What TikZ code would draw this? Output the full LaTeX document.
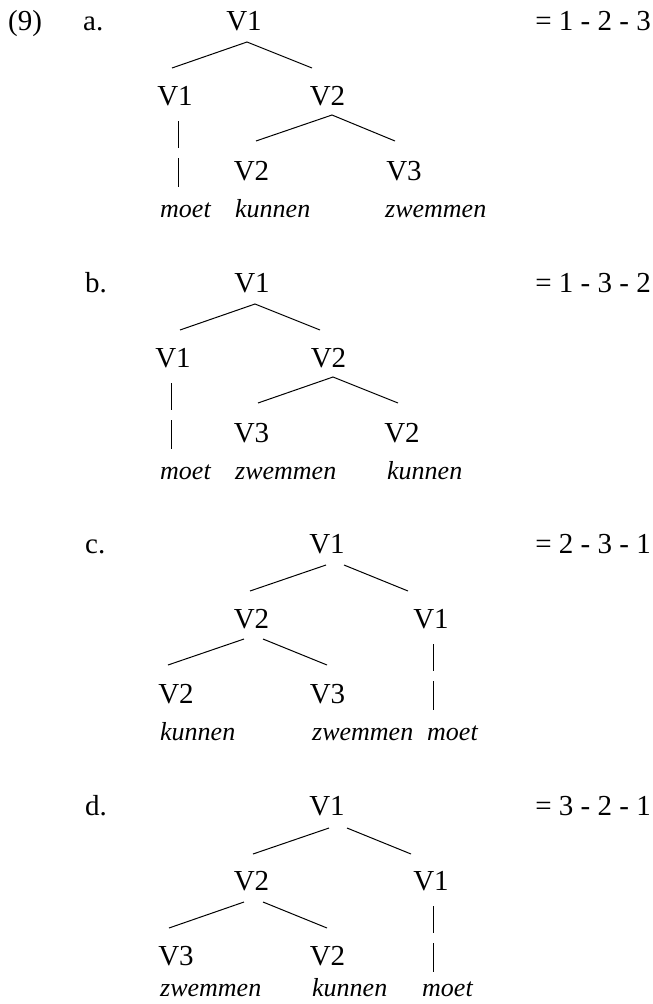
\documentclass[tikz,border=0pt]{standalone}
\usepackage{fontspec}
\setmainfont{Liberation Serif}
\newfontfamily\treefont{Liberation Serif}
\begin{document}
\begin{tikzpicture}[x=1pt,y=-1pt,
  lbl/.style={anchor=base,inner sep=0pt,font=\treefont\fontsize{29}{32}\selectfont},
  lft/.style={anchor=base west,inner sep=0pt,font=\treefont\fontsize{29}{32}\selectfont},
  eqn/.style={anchor=base east,inner sep=0pt,font=\treefont\fontsize{29}{32}\selectfont},
  word/.style={anchor=base west,inner sep=0pt,font=\treefont\itshape\fontsize{26}{30}\selectfont},
  branch/.style={line width=1pt}]
\useasboundingbox (0,0) rectangle (653,1004);

% ---------------- (9) a.
\node[lft] (num) at (8,30) {(9)};
\node[lft] (a-let) at (83,30) {a.};
\node[lbl] (a-r) at (244,30) {V1};
\node[eqn] (a-eq) at (651,30) {= 1 - 2 - 3};
\coordinate (a-top) at (247,42);
\coordinate (a-tl) at (172,68);
\coordinate (a-tr) at (312,68);
\draw[branch] (a-tl) -- (a-top) -- (a-tr);
\node[lbl] (a-m1) at (175,105) {V1};
\node[lbl] (a-m2) at (327.5,105) {V2};
\coordinate (a-b1) at (178,121); \coordinate (a-b2) at (178,148);
\coordinate (a-b3) at (178,158); \coordinate (a-b4) at (178,187);
\draw[branch] (a-b1) -- (a-b2);
\draw[branch] (a-b3) -- (a-b4);
\coordinate (a-mid) at (332,115);
\coordinate (a-ml) at (256,141);
\coordinate (a-mr) at (395,141);
\draw[branch] (a-ml) -- (a-mid) -- (a-mr);
\node[lbl] (a-l1) at (251.5,180) {V2};
\node[lbl] (a-l2) at (404,180) {V3};
\node[word] (a-w1) at (160,217) {moet};
\node[word] (a-w2) at (235,217) {kunnen};
\node[word] (a-w3) at (385,217) {zwemmen};

% ---------------- b.
\node[lft] (b-let) at (85,292) {b.};
\node[lbl] (b-r) at (252,292) {V1};
\node[eqn] (b-eq) at (651,292) {= 1 - 3 - 2};
\coordinate (b-top) at (255,304);
\coordinate (b-tl) at (180,330);
\coordinate (b-tr) at (320,330);
\draw[branch] (b-tl) -- (b-top) -- (b-tr);
\node[lbl] (b-m1) at (173,367) {V1};
\node[lbl] (b-m2) at (328.5,367) {V2};
\coordinate (b-b1) at (171,383); \coordinate (b-b2) at (171,410);
\coordinate (b-b3) at (171,420); \coordinate (b-b4) at (171,449);
\draw[branch] (b-b1) -- (b-b2);
\draw[branch] (b-b3) -- (b-b4);
\coordinate (b-mid) at (333,377);
\coordinate (b-ml) at (258,403);
\coordinate (b-mr) at (398,403);
\draw[branch] (b-ml) -- (b-mid) -- (b-mr);
\node[lbl] (b-l1) at (251.5,442) {V3};
\node[lbl] (b-l2) at (402,442) {V2};
\node[word] (b-w1) at (160,479) {moet};
\node[word] (b-w2) at (235,479) {zwemmen};
\node[word] (b-w3) at (387,479) {kunnen};

% ---------------- c.
\node[lft] (c-let) at (85,553) {c.};
\node[lbl] (c-r) at (327,553) {V1};
\node[eqn] (c-eq) at (651,553) {= 2 - 3 - 1};
\coordinate (c-t1) at (326,565); \coordinate (c-tl) at (250,591);
\coordinate (c-t2) at (344,565); \coordinate (c-tr) at (408,591);
\draw[branch] (c-tl) -- (c-t1);
\draw[branch] (c-t2) -- (c-tr);
\node[lbl] (c-m1) at (251.5,628) {V2};
\node[lbl] (c-m2) at (431,628) {V1};
\coordinate (c-m1a) at (244,639); \coordinate (c-ml) at (168,665);
\coordinate (c-m1b) at (263,639); \coordinate (c-mr) at (327,665);
\draw[branch] (c-ml) -- (c-m1a);
\draw[branch] (c-m1b) -- (c-mr);
\coordinate (c-b1) at (433,644); \coordinate (c-b2) at (433,671);
\coordinate (c-b3) at (433,681); \coordinate (c-b4) at (433,710);
\draw[branch] (c-b1) -- (c-b2);
\draw[branch] (c-b3) -- (c-b4);
\node[lbl] (c-l1) at (176,703) {V2};
\node[lbl] (c-l2) at (327.5,703) {V3};
\node[word] (c-w1) at (160,740) {kunnen};
\node[word] (c-w2) at (312,740) {zwemmen};
\node[word] (c-w3) at (427,740) {moet};

% ---------------- d.
\node[lft] (d-let) at (85,815) {d.};
\node[lbl] (d-r) at (327,815) {V1};
\node[eqn] (d-eq) at (651,815) {= 3 - 2 - 1};
\coordinate (d-t1) at (329,828); \coordinate (d-tl) at (253,854);
\coordinate (d-t2) at (347,828); \coordinate (d-tr) at (411,854);
\draw[branch] (d-tl) -- (d-t1);
\draw[branch] (d-t2) -- (d-tr);
\node[lbl] (d-m1) at (251.5,890) {V2};
\node[lbl] (d-m2) at (431,890) {V1};
\coordinate (d-m1a) at (244,902); \coordinate (d-ml) at (169,928);
\coordinate (d-m1b) at (263,902); \coordinate (d-mr) at (327,928);
\draw[branch] (d-ml) -- (d-m1a);
\draw[branch] (d-m1b) -- (d-mr);
\coordinate (d-b1) at (433,906); \coordinate (d-b2) at (433,933);
\coordinate (d-b3) at (433,943); \coordinate (d-b4) at (433,972);
\draw[branch] (d-b1) -- (d-b2);
\draw[branch] (d-b3) -- (d-b4);
\node[lbl] (d-l1) at (176,965) {V3};
\node[lbl] (d-l2) at (327.5,965) {V2};
\node[word] (d-w1) at (160,996) {zwemmen};
\node[word] (d-w2) at (312,996) {kunnen};
\node[word] (d-w3) at (422,996) {moet};
\end{tikzpicture}
\end{document}
